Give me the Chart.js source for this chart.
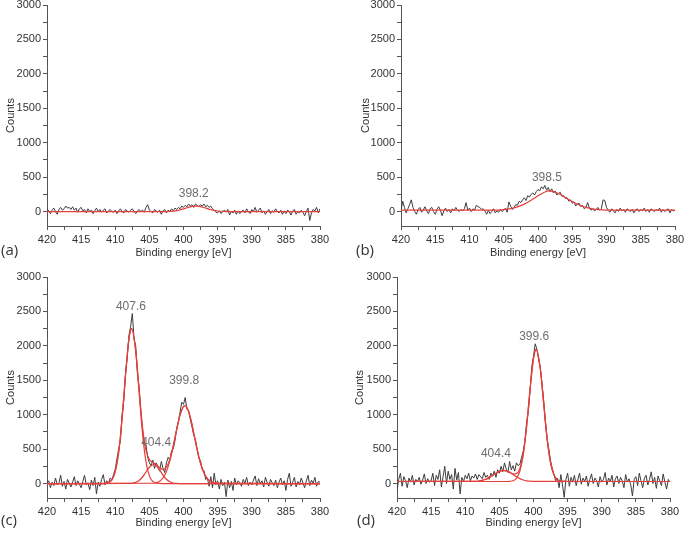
<!DOCTYPE html>
<html>
<head>
<meta charset="utf-8">
<script src="https://cdn.jsdelivr.net/npm/chart.js@4.4.1/dist/chart.umd.min.js"></script>
<style>
  html, body { margin: 0; padding: 0; background: #fff; }
  #wrap { position: relative; width: 685px; height: 536px; overflow: hidden; }
  .panel { position: absolute; }
  .tag { position: absolute; font-family: "Open Sans", sans-serif; font-size: 15px; color: #333; line-height: 1; }
</style>
</head>
<body>
<div id="wrap">
  <div class="panel" style="left:0;top:0;width:340px;height:270px"><canvas id="chartA"></canvas></div>
  <div class="panel" style="left:340px;top:0;width:345px;height:270px"><canvas id="chartB"></canvas></div>
  <div class="panel" style="left:0;top:270px;width:340px;height:266px"><canvas id="chartC"></canvas></div>
  <div class="panel" style="left:340px;top:270px;width:345px;height:266px"><canvas id="chartD"></canvas></div>
  <div class="tag" style="left:1px;top:242px">(a)</div>
  <div class="tag" style="left:356px;top:242px">(b)</div>
  <div class="tag" style="left:1px;top:512px">(c)</div>
  <div class="tag" style="left:357px;top:512px">(d)</div>
</div>
<script>
// binding energy grid of the measured spectra [eV]
const energy = [
  420,419.75,419.5,419.25,419,418.75,418.5,418.25,418,417.75,417.5,417.25,417,416.75,416.5,416.25,416,415.75,415.5,415.25,
  415,414.75,414.5,414.25,414,413.75,413.5,413.25,413,412.75,412.5,412.25,412,411.75,411.5,411.25,411,410.75,410.5,410.25,
  410,409.75,409.5,409.25,409,408.75,408.5,408.25,408,407.75,407.5,407.25,407,406.75,406.5,406.25,406,405.75,405.5,405.25,
  405,404.75,404.5,404.25,404,403.75,403.5,403.25,403,402.75,402.5,402.25,402,401.75,401.5,401.25,401,400.75,400.5,400.25,
  400,399.75,399.5,399.25,399,398.75,398.5,398.25,398,397.75,397.5,397.25,397,396.75,396.5,396.25,396,395.75,395.5,395.25,
  395,394.75,394.5,394.25,394,393.75,393.5,393.25,393,392.75,392.5,392.25,392,391.75,391.5,391.25,391,390.75,390.5,390.25,
  390,389.75,389.5,389.25,389,388.75,388.5,388.25,388,387.75,387.5,387.25,387,386.75,386.5,386.25,386,385.75,385.5,385.25,
  385,384.75,384.5,384.25,384,383.75,383.5,383.25,383,382.75,382.5,382.25,382,381.75,381.5,381.25,381,380.75,380.5,380.25,
  380
];

// measured counts (black)
const countsA = [
  40,10,-30,20,50,0,-40,30,60,20,40,80,50,60,30,70,20,50,-10,40,
  60,10,30,-20,40,0,20,-30,10,50,0,30,-10,20,40,-20,10,30,0,-10,
  20,-30,10,40,0,-20,30,10,-10,20,40,0,-30,10,30,0,20,-10,60,100,
  20,0,-20,30,10,-10,20,-40,10,30,-20,20,0,40,10,50,30,60,40,80,
  60,90,70,110,80,100,60,110,90,70,100,80,110,70,90,60,80,40,20,-10,
  -20,10,-30,0,20,-10,30,-50,0,-20,20,-40,10,-30,0,20,-20,40,0,-30,
  30,0,60,-10,20,50,-20,10,-40,0,30,-30,10,-10,40,0,-20,20,-40,10,
  -30,20,0,-50,10,30,-40,0,-20,20,-10,-60,0,50,-130,-20,30,10,60,-20,
  40
];
const countsB = [
  20,150,60,-20,40,100,170,60,0,-40,30,60,-10,20,70,10,-30,40,60,0,
  -40,30,70,20,-60,10,50,0,30,-20,40,10,60,20,0,30,10,40,130,20,
  50,0,40,20,90,70,60,30,40,10,-40,20,-30,0,40,-20,10,-10,30,0,
  20,50,-10,140,80,30,60,100,90,150,130,170,200,160,230,210,250,270,240,290,
  320,300,360,330,380,310,350,290,330,270,300,240,260,280,220,230,190,200,150,170,
  120,140,80,110,120,70,90,40,60,130,50,20,40,10,30,60,20,40,170,160,
  60,20,-10,40,10,-20,30,0,50,10,30,-10,40,20,0,30,-20,20,40,0,
  30,10,50,0,30,-10,40,20,0,30,10,50,-10,30,0,20,40,-20,30,10,
  20
];
const countsC = [
  0,40,-60,20,-30,80,-20,10,120,-40,30,-80,60,10,-50,20,100,-30,40,-10,
  -60,30,120,-20,10,-90,50,-30,90,-150,20,-40,60,130,-20,40,0,80,50,130,
  210,360,500,620,1000,1200,1600,1820,2150,2280,2470,2100,2000,1600,1400,1050,780,560,560,380,
  300,260,340,220,300,240,180,320,220,160,300,380,340,480,500,620,800,900,1040,1180,
  1150,1250,1080,1060,930,820,700,640,500,370,330,200,190,60,80,-40,100,-60,150,-20,
  40,-80,60,-30,20,-190,50,-60,30,-100,80,-20,40,10,-40,60,0,90,-30,20,
  -20,50,110,-30,70,0,40,-50,90,20,-40,60,10,-30,50,-60,20,80,-20,40,
  -100,60,150,-40,20,90,-50,30,-20,80,10,-60,40,120,-30,50,0,90,-40,30,
  20
];
const countsD = [
  -100,60,150,-40,100,40,-60,80,20,120,-20,60,30,90,-10,50,140,0,70,20,
  40,150,-30,120,60,200,-50,100,250,0,180,60,130,-80,220,50,160,-150,90,30,
  120,70,150,40,110,80,140,60,130,100,70,160,90,120,60,150,110,180,90,200,
  150,250,170,300,210,160,320,200,260,180,300,260,280,380,470,620,900,1050,1350,1700,
  1850,2030,1950,1800,1680,1450,1200,900,650,500,330,220,130,40,80,-60,130,-20,-200,60,
  150,-40,90,20,120,-30,60,150,-10,80,30,110,-40,60,140,0,80,40,-50,100,
  20,60,160,-20,80,30,120,-50,70,110,0,90,40,-60,130,20,70,-20,-180,60,
  100,-30,150,40,-60,80,120,-20,60,170,0,90,-70,110,40,-30,140,20,-80,60,
  20
];

// fitted components (red)
const fitEnergyA = [420,403,402,401.5,401,400.5,400,399.5,399,398.5,398.2,398,397.5,397,396.5,396,395.5,395,394.5,394,393,380];
const fitA       = [0,0,3,7,14,25,39,55,69,78,80,79,72,58,42,27,16,8,4,2,0,0];

const fitEnergyB = [420,407,406,405,404,403,402,401,400,399,398.5,398,397,396,395,394,393,392,391,390,389,380];
const fitB       = [20,20,22,28,42,68,108,163,228,283,300,296,262,205,145,95,60,38,27,22,20,20];

const fitEnergyC1 = [420,412,411.5,411,410.5,410,409.5,409,408.5,408,407.6,407,406.5,406,405.5,405,404.5,404,403.5,403,380];
const fitC1       = [0,0,3,13,54,174,452,942,1570,2095,2250,1917,1314,721,317,112,31,7,1,0,0];
const fitEnergyC2 = [420,408,407.5,407,406.5,406,405.5,405,404.4,404,403.5,403,402.5,402,401.5,401,400.5,380];
const fitC2       = [0,1,5,17,45,95,167,237,275,257,197,122,62,26,8,2,0,0];
const fitEnergyC3 = [420,404.5,404,403.5,403,402.5,402,401.5,401,400.5,400,399.8,399.5,399,398.5,398,397.5,397,396.5,396,395.5,395,380];
const fitC3       = [0,4,13,34,83,176,329,541,783,997,1119,1130,1104,960,734,494,293,153,70,28,10,3,0];
const fitEnergyCSum = [420,412,411.5,411,410.5,410,409.5,409,408.5,408,407.6,407,406.5,406,405.5,405,404.5,404,403.5,403,402.5,402,401.5,401,400.5,400,399.8,399.5,399,398.5,398,397.5,397,396.5,396,395.5,395,380];
const fitCSum       = [0,0,3,13,54,174,452,942,1570,2095,2251,1934,1359,816,484,350,309,277,232,205,238,355,549,785,997,1119,1130,1104,960,734,494,293,153,70,28,10,3,0];

const fitEnergyD1 = [420,404,403.5,403,402.5,402,401.5,401,400.5,400,399.6,399,398.5,398,397.5,397,396.5,396,395.5,395,380];
const fitD1       = [30,30,32,41,76,178,416,834,1370,1818,1950,1666,1151,645,301,126,57,36,31,30,30];
const fitEnergyD2 = [420,409,408.5,408,407.5,407,406.5,406,405.5,405,404.4,404,403.5,403,402.5,402,401.5,401,400.5,400,380];
const fitD2       = [30,31,33,37,46,62,86,117,150,177,190,184,162,130,98,71,52,40,34,31,30];
const fitEnergyDSum = [420,409,408.5,408,407.5,407,406.5,406,405.5,405,404.4,404,403.5,403,402.5,402,401.5,401,400.5,400,399.6,399,398.5,398,397.5,397,396.5,396,395.5,395,380];
const fitDSum       = [30,31,33,37,46,62,86,117,150,177,190,184,164,141,144,219,438,844,1374,1819,1950,1666,1151,645,301,126,57,36,31,30,30];

// peak position labels
const peakTextA = ["398.2"];
const peakTextB = ["398.5"];
const peakTextC = ["407.6", "404.4", "399.8"];
const peakTextD = ["399.6", "404.4"];

// axis ticks
const xTicks = [420,417.5,415,412.5,410,407.5,405,402.5,400,397.5,395,392.5,390,387.5,385,382.5,380];
const yTicks = [0,250,500,750,1000,1250,1500,1750,2000,2250,2500,2750,3000];

const FONT = '"Liberation Sans", Arial, sans-serif';
const BLACK = "#3c3c3c";
const RED = "#e6403c";

const toPoints = (xs, ys) => xs.map((x, i) => ({ x: x, y: ys[i] }));

const peakLabels = {
    id: "peakLabels",
    afterDatasetsDraw(chart, args, opts) {
        const { ctx, scales } = chart;
        ctx.save();
        ctx.font = "12px " + FONT;
        ctx.fillStyle = "#6e6e6e";
        ctx.textAlign = "center";
        ctx.textBaseline = "middle";
        (opts.items || []).forEach(p => {
            ctx.fillText(p.text, scales.x.getPixelForValue(p.x), scales.y.getPixelForValue(p.y));
        });
        ctx.restore();
    }
};

function redLine(xs, ys) {
    return {
        data: toPoints(xs, ys),
        borderColor: RED,
        borderWidth: 1.2,
        pointRadius: 0,
        cubicInterpolationMode: "monotone",
        fill: false
    };
}

function makePanel(canvasId, cfg) {
    const ctx = document.getElementById(canvasId).getContext("2d");
    const datasets = cfg.fits.map(f => redLine(f[0], f[1]));
    datasets.push({
        data: toPoints(energy, cfg.counts),
        borderColor: BLACK,
        borderWidth: 1,
        pointRadius: 0,
        tension: 0,
        fill: false
    });

    return new Chart(ctx, {
        type: "line",
        data: { datasets: datasets },
        plugins: [peakLabels],
        options: {
            responsive: true,
            maintainAspectRatio: false,
            animation: false,
            events: [],
            layout: { padding: cfg.padding },
            plugins: {
                legend: { display: false },
                tooltip: { enabled: false },
                peakLabels: { items: cfg.labels }
            },
            scales: {
                x: {
                    type: "linear",
                    reverse: true,
                    min: 380,
                    max: 420,
                    afterBuildTicks: s => { s.ticks = xTicks.map(v => ({ value: v })); },
                    afterFit: s => { s.height = cfg.xHeight; s.paddingLeft = 0; s.paddingRight = 0; },
                    ticks: {
                        autoSkip: false,
                        maxRotation: 0,
                        padding: 3,
                        color: "#333",
                        font: { family: FONT, size: 11 },
                        callback: v => (v % 5 === 0 ? String(v) : "")
                    },
                    grid: { drawOnChartArea: false, drawTicks: true, tickLength: 4, tickColor: "#555" },
                    border: { display: true, color: "#555", width: 1 },
                    title: {
                        display: true,
                        text: "Binding energy [eV]",
                        color: "#333",
                        font: { family: FONT, size: 11 },
                        padding: { top: 0, bottom: cfg.titlePad }
                    }
                },
                y: {
                    type: "linear",
                    min: -210,
                    max: 3000,
                    afterBuildTicks: s => { s.ticks = yTicks.map(v => ({ value: v })); },
                    afterFit: s => { s.width = cfg.yWidth; s.paddingTop = 0; s.paddingBottom = 0; },
                    ticks: {
                        autoSkip: false,
                        padding: 2,
                        color: "#333",
                        font: { family: FONT, size: 11 },
                        callback: v => (v % 500 === 0 ? String(v) : "")
                    },
                    grid: { drawOnChartArea: false, drawTicks: true, tickLength: 4, tickColor: "#555" },
                    border: { display: true, color: "#555", width: 1 },
                    title: {
                        display: true,
                        text: "Counts",
                        color: "#333",
                        font: { family: FONT, size: 11 }
                    }
                }
            }
        }
    });
}

makePanel("chartA", {
    counts: countsA,
    fits: [[fitEnergyA, fitA]],
    labels: [{ text: peakTextA[0], x: 398.5, y: 262 }],
    padding: { left: 0, right: 20, top: 5, bottom: 0 },
    yWidth: 47, xHeight: 44, titlePad: 10
});
makePanel("chartB", {
    counts: countsB,
    fits: [[fitEnergyB, fitB]],
    labels: [{ text: peakTextB[0], x: 398.7, y: 496 }],
    padding: { left: 15, right: 10, top: 5, bottom: 0 },
    yWidth: 46, xHeight: 44, titlePad: 10
});
makePanel("chartC", {
    counts: countsC,
    fits: [[fitEnergyC1, fitC1], [fitEnergyC2, fitC2], [fitEnergyC3, fitC3], [fitEnergyCSum, fitCSum]],
    labels: [
        { text: peakTextC[0], x: 407.7, y: 2565 },
        { text: peakTextC[1], x: 404.0, y: 594 },
        { text: peakTextC[2], x: 399.9, y: 1493 }
    ],
    padding: { left: 0, right: 20, top: 7, bottom: 0 },
    yWidth: 47, xHeight: 38, titlePad: 6
});
makePanel("chartD", {
    counts: countsD,
    fits: [[fitEnergyD1, fitD1], [fitEnergyD2, fitD2], [fitEnergyDSum, fitDSum]],
    labels: [
        { text: peakTextD[0], x: 399.9, y: 2137 },
        { text: peakTextD[1], x: 405.5, y: 436 }
    ],
    padding: { left: 9, right: 15, top: 7, bottom: 0 },
    yWidth: 48, xHeight: 38, titlePad: 6
});
</script>
</body>
</html>
